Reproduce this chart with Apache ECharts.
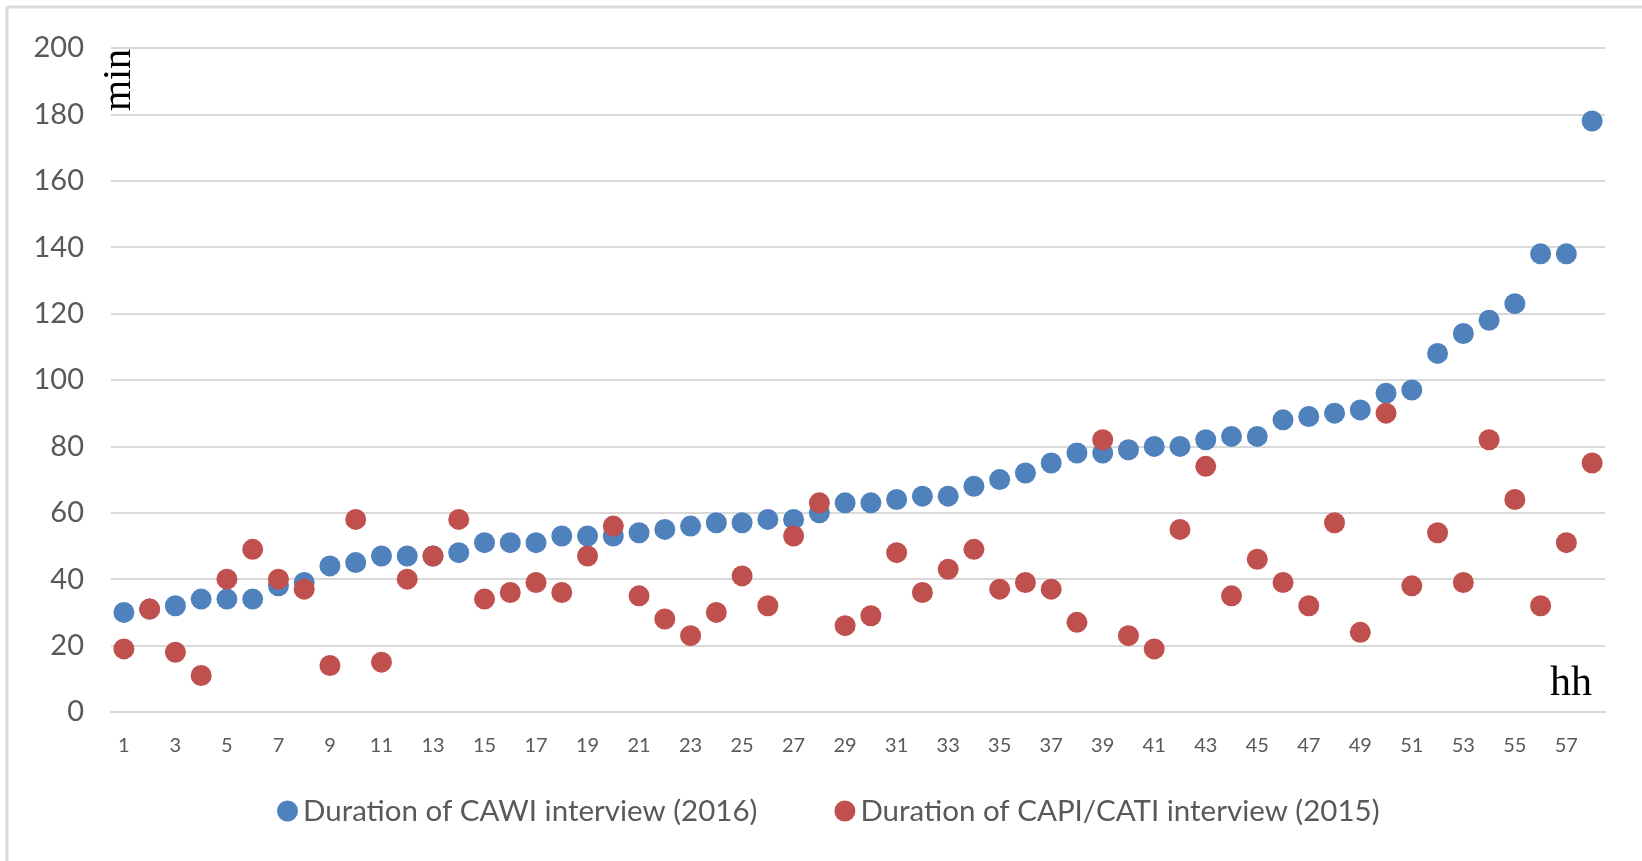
<!DOCTYPE html>
<html>
<head>
<meta charset="utf-8">
<script src="https://cdn.jsdelivr.net/npm/echarts@6/dist/echarts.min.js"></script>
<style>
  html, body { margin: 0; padding: 0; background: #fff; }
  #chart { width: 1642px; height: 861px; }
</style>
</head>
<body>
<div id="chart"></div>
<script>
var households = [];
for (var i = 1; i <= 58; i++) households.push(String(i));

var cawi2016 = [30, 31, 32, 34, 34, 34, 38, 39, 44, 45,
    47, 47, 47, 48, 51, 51, 51, 53, 53, 53,
    54, 55, 56, 57, 57, 58, 58, 60, 63, 63,
    64, 65, 65, 68, 70, 72, 75, 78, 78, 79,
    80, 80, 82, 83, 83, 88, 89, 90, 91, 96,
    97, 108, 114, 118, 123, 138, 138, 178];

var capiCati2015 = [19, 31, 18, 11, 40, 49, 40, 37, 14, 58,
    15, 40, 47, 58, 34, 36, 39, 36, 47, 56,
    35, 28, 23, 30, 41, 32, 53, 63, 26, 29,
    48, 36, 43, 49, 37, 39, 37, 27, 82, 23,
    19, 55, 74, 35, 46, 39, 32, 57, 24, 90,
    38, 54, 39, 82, 64, 32, 51, 75];

var seriesNames = ['Duration of CAWI interview (2016)', 'Duration of CAPI/CATI interview (2015)'];

var dom = document.getElementById('chart');
var myChart = echarts.init(dom);

var option = {
    animation: false,
    textStyle: { fontFamily: 'Lato' },
    grid: { left: 111, right: 37, top: 48, bottom: 149 },
    legend: {
        bottom: 30,
        left: 272,
        itemGap: 77,
        itemWidth: 21,
        itemHeight: 21,
        icon: 'circle',
        textStyle: { color: '#595959', fontSize: 29.5, fontFamily: 'Lato' },
        data: seriesNames
    },
    xAxis: {
        type: 'category',
        data: households,
        boundaryGap: true,
        axisLine: { lineStyle: { color: '#D9D9D9', width: 2 } },
        axisTick: { show: false },
        axisLabel: { interval: 1, color: '#595959', fontSize: 20, margin: 24 }
    },
    yAxis: {
        type: 'value',
        min: 0,
        max: 200,
        interval: 20,
        axisLine: { show: false },
        axisTick: { show: false },
        splitLine: { lineStyle: { color: '#D9D9D9', width: 2 } },
        axisLabel: { color: '#595959', fontSize: 29, margin: 27 }
    },
    graphic: [
        { type: 'line', shape: { x1: 7, y1: 7, x2: 7, y2: 861 }, style: { stroke: '#D9D9D9', lineWidth: 3 } },
        { type: 'line', shape: { x1: 7, y1: 7, x2: 1642, y2: 7 }, style: { stroke: '#D9D9D9', lineWidth: 3 } },
        {
            type: 'text', x: 119, y: 80, rotation: Math.PI / 2,
            style: { text: 'min', font: '40px "Liberation Serif"', fill: '#000', align: 'center', verticalAlign: 'middle' }
        },
        {
            type: 'text', x: 1550, y: 684,
            style: { text: 'hh', font: '42px "Liberation Serif"', fill: '#000', align: 'left', verticalAlign: 'middle' }
        }
    ],
    series: [
        {
            name: seriesNames[0],
            type: 'scatter',
            symbolSize: 21,
            itemStyle: { color: '#4F81BD', opacity: 1 },
            data: cawi2016
        },
        {
            name: seriesNames[1],
            type: 'scatter',
            symbolSize: 21,
            itemStyle: { color: '#C0504D', opacity: 1 },
            data: capiCati2015
        }
    ]
};

myChart.setOption(option);
</script>
</body>
</html>
